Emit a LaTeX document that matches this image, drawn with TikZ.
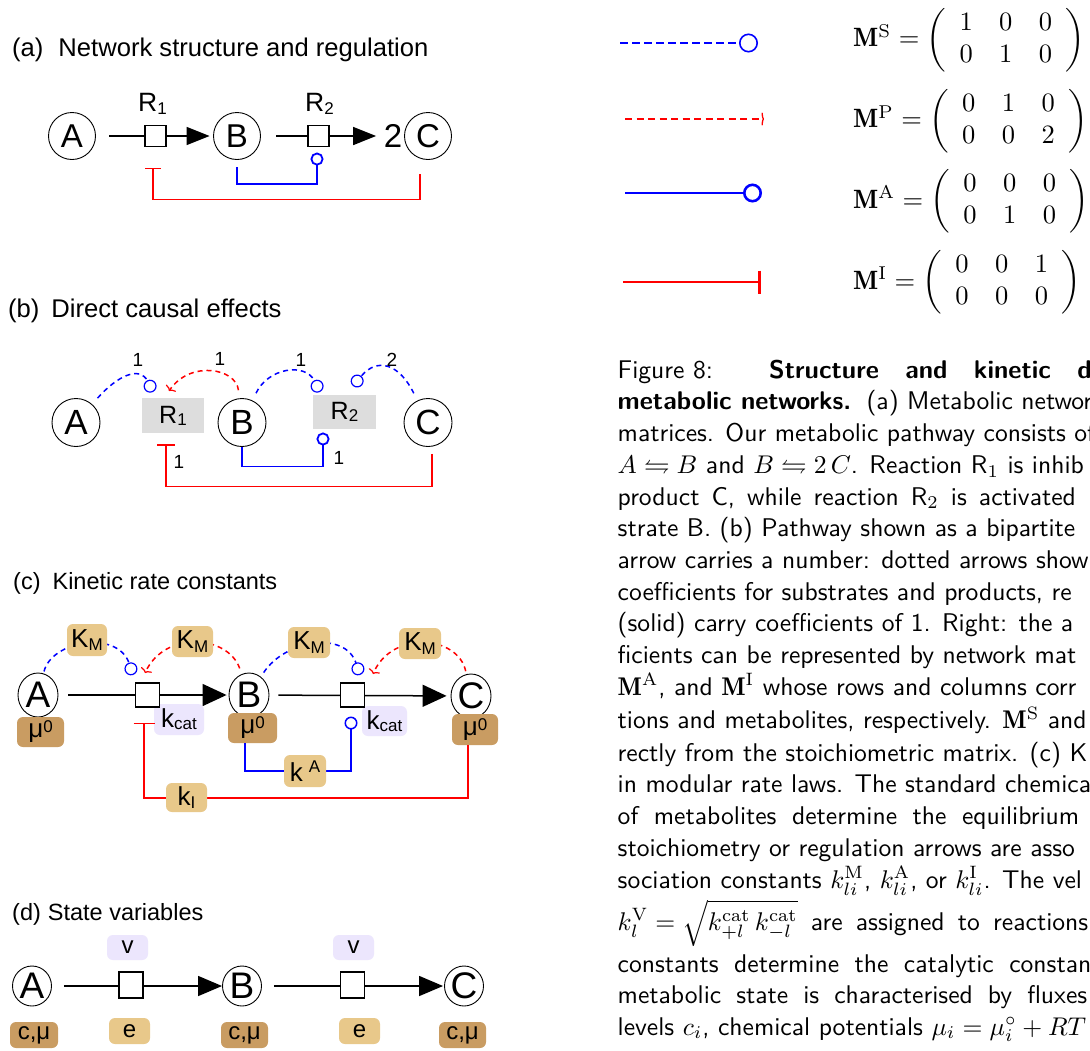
\documentclass[tikz,border=0pt]{standalone}
\usepackage{fontspec}
\usepackage{amssymb}
\usepackage{graphicx}
\newfontfamily\arialf{Liberation Sans}
\usetikzlibrary{arrows.meta,shapes.geometric}
\definecolor{brownc}{RGB}{201,156,98}
\definecolor{tanc}{RGB}{232,200,138}
\definecolor{lavc}{RGB}{236,230,253}
\definecolor{greyc}{RGB}{221,221,221}
% lowered / raised small text for sub- and superscripts in the diagrams
\newcommand\lowtxt[2][4pt]{\raisebox{-#1}{\fontsize{17}{17}\selectfont #2}}
\newcommand\hightxt[2][5pt]{\raisebox{#1}{\fontsize{17}{17}\selectfont #2}}
% caption lines and matrices are set at 10pt and enlarged
\newcommand\capscale[1]{\scalebox{2.56}{#1}}
\newcommand\matscale[1]{\scalebox{2.65}{#1}}
\tikzset{
  ttl/.style={anchor=base west, inner sep=0pt, font=\arialf\fontsize{25.6}{30}\selectfont},
  ttlc/.style={ttl, font=\arialf\fontsize{23.5}{28}\selectfont},
  metab/.style={circle, draw, line width=0.9pt, inner sep=0pt, minimum size=47pt,
    font=\arialf\fontsize{33}{33}\selectfont},
  metabb/.style={metab, minimum size=48pt, font=\arialf\fontsize{35}{35}\selectfont},
  metabe/.style={ellipse, draw, line width=0.9pt, inner sep=0pt, minimum width=40pt,
    minimum height=44pt, font=\arialf\fontsize{37}{37}\selectfont},
  rsq/.style={rectangle, draw, line width=1.1pt, fill=white, inner sep=0pt, minimum size=21pt},
  rlab/.style={anchor=base west, inner sep=0pt, font=\arialf\fontsize{26.5}{27}\selectfont},
  rgrey/.style={rectangle, fill=greyc, inner sep=0pt, font=\arialf\fontsize{25}{25}\selectfont},
  rxn/.style={line width=1.5pt, -{Triangle[length=23pt,width=18pt]}},
  actv/.style={blue, line width=1.8pt, -{Circle[open,length=13pt]}},
  inhb/.style={red, line width=1.8pt, -{Bar[width=16pt]}},
  subd/.style={blue, line width=1.5pt, dash pattern=on 5pt off 4pt,
    -{Circle[open,length=13pt,line width=1.2pt]}},
  prodd/.style={red, line width=1.5pt, dash pattern=on 5pt off 4pt,
    -{To[length=4pt,width=12pt,line width=1.2pt]}},
  kbox/.style={rectangle, rounded corners=6pt, inner sep=0pt, font=\arialf\fontsize{26}{26}\selectfont},
  brownb/.style={kbox, fill=brownc},
  tanb/.style={kbox, fill=tanc},
  lavb/.style={kbox, fill=lavc},
  num/.style={inner sep=0pt, font=\arialf\fontsize{19}{19}\selectfont},
  mat/.style={anchor=west, inner sep=0pt, font=\fontsize{10}{12}\selectfont},
  capl/.style={anchor=base west, inner sep=0pt, font=\sffamily\fontsize{10}{12.6}\selectfont},
}
\begin{document}
\begin{tikzpicture}[x=1pt,y=-1pt]
\fill[white] (0,0) rectangle (1090,1050);
\useasboundingbox (0,0) rectangle (1090,1050);

% ================= (a) network structure and regulation
\node[ttl] (ta) at (12,56) {(a)\hspace{15pt}Network structure and regulation};
\node[metab] (aA) at (72,136) {A};
\node[metab] (aB) at (237,136) {B};
\node[metab] (aC) at (428,136) {C};
\node[inner sep=0pt, font=\arialf\fontsize{33}{33}\selectfont] (a2) at (393,136) {2};
\draw[rxn, shorten <=13.5pt, shorten >=3.5pt] (aA) -- (aB);
\draw[rxn, shorten <=15.5pt, shorten >=7.5pt] (aB) -- (a2);
\node[rsq] (aR1) at (155.5,136) {};
\node[rsq] (aR2) at (318.5,136) {};
\node[rlab] (aL1) at (138,111) {R\lowtxt[3pt]{1}};
\node[rlab] (aL2) at (305,111) {R\lowtxt[3pt]{2}};
\draw[actv, shorten <=7.5pt, shorten >=5.5pt] (aB.south) -- ++(0,24) -| ([xshift=-1.5pt]aR2.south);
\draw[inhb, shorten <=14.5pt, shorten >=20.5pt] ([xshift=-8pt]aC.south) -- ++(0,39.5) -| ([xshift=-2.5pt]aR1.south);

% ================= (b) direct causal effects
\node[ttl] (tb) at (8,317) {(b)\hspace{12pt}Direct causal effects};
\node[metabb] (bA) at (76,422.5) {A};
\node[metabb] (bB) at (242,422.5) {B};
\node[metabb] (bC) at (428,422.5) {C};
\node[rgrey, minimum width=62pt, minimum height=35pt] (bR1) at (173,415.5) {R\lowtxt[2pt]{1}};
\node[rgrey, minimum width=63pt, minimum height=34pt] (bR2) at (344.5,412) {R\lowtxt[2pt]{2}};
\coordinate (bt1) at (153,392);
\coordinate (bt2) at (169,391);
\coordinate (bt3) at (320,392);
\coordinate (bt4) at (353,386);
\draw[subd, shorten <=8pt] (bA) .. controls (118,375) and (140,366) .. (bt1);
\draw[prodd, shorten <=8pt] (bB) .. controls (236,368) and (190,360) .. (bt2);
\draw[subd, shorten <=8pt] (bB) .. controls (268,368) and (305,362) .. (bt3);
\draw[subd, shorten <=8pt] (bC) .. controls (400,365) and (378,356) .. (bt4);
\draw[actv, shorten >=3.3pt] (bB.south) -- ++(0,19.5) -| ([xshift=-21.5pt]bR2.south);
\draw[inhb, line width=1.6pt, -{Bar[width=18pt]}, shorten <=7pt, shorten >=11pt]
  ([xshift=4pt]bC.south) -- ++(0,39.5) -| ([xshift=-7pt]bR1.south);
\node[num] (bn1) at (138,360) {1};
\node[num] (bn2) at (220,359) {1};
\node[num] (bn3) at (301,360) {1};
\node[num] (bn4) at (392,360) {2};
\node[num] (bn5) at (339,458) {1};
\node[num] (bn6) at (179,462) {1};

% ================= (c) kinetic rate constants
\node[ttlc] (tc) at (13,589) {(c)\hspace{12pt}Kinetic rate constants};
\node[metabe] (cA) at (38,695) {A};
\node[metabe] (cB) at (249,695) {B};
\node[metabe] (cC) at (471,696) {C};
\coordinate (ct1) at (133,675);
\coordinate (ct2) at (145,673);
\coordinate (ct3) at (360,675);
\coordinate (ct4) at (373,674);
\draw[subd, shorten <=2pt] (cA) .. controls (52,640) and (118,630) .. (ct1);
\draw[prodd, shorten <=6pt] (cB) .. controls (228,635) and (165,630) .. (ct2);
\draw[subd, shorten <=5pt] (cB) .. controls (285,640) and (345,630) .. (ct3);
\draw[prodd, shorten <=3pt] (cC) .. controls (458,635) and (392,630) .. (ct4);
\draw[rxn, -{Triangle[length=24pt,width=22pt]}, shorten <=10pt, shorten >=2pt] (cA) -- (cB);
\draw[rxn, -{Triangle[length=24pt,width=22pt]}, shorten <=9pt, shorten >=4pt] (cB) -- (cC);
\node[lavb, minimum width=50pt, minimum height=31pt] (ckc1) at (179,719.5) {k\lowtxt[2pt]{cat}};
\node[lavb, minimum width=45pt, minimum height=30pt] (ckc2) at (384.5,721) {k\lowtxt[2pt]{cat}};
\node[rsq, minimum size=24pt] (cR1) at (147.5,695) {};
\node[rsq, minimum size=24pt] (cR2) at (352.5,695) {};
\node[brownb, minimum width=47pt, minimum height=30pt] (cmuA) at (40.5,732) {μ\hightxt{0}};
\node[brownb, minimum width=49pt, minimum height=30pt] (cmuB) at (252.5,728) {μ\hightxt{0}};
\node[brownb, minimum width=46pt, minimum height=31pt] (cmuC) at (475,729.5) {μ\hightxt{0}};
\draw[actv, line width=1.5pt, shorten >=9pt] ([xshift=-7.5pt]cmuB.south) -- ++(0,28) -| ([xshift=-1.5pt]cR2.south);
\draw[inhb, line width=1.5pt, -{Bar[width=21pt]}, shorten >=15pt]
  ([xshift=-7pt]cmuC.south) -- ++(0,53) -| ([xshift=-3.5pt]cR1.south);
\node[tanb, minimum width=40pt, minimum height=32pt] (ck1) at (87,640) {K\lowtxt[3.5pt]{M}};
\node[tanb, minimum width=41pt, minimum height=31pt] (ck2) at (192.5,641.5) {K\lowtxt[3.5pt]{M}};
\node[tanb, minimum width=42pt, minimum height=31pt] (ck3) at (309,642.5) {K\lowtxt[3.5pt]{M}};
\node[tanb, minimum width=42pt, minimum height=31pt] (ck4) at (420,643.5) {K\lowtxt[3.5pt]{M}};
\node[tanb, minimum width=42pt, minimum height=32pt] (ckA) at (305,771) {k\hspace{6pt}\hightxt[9pt]{A}};
\node[tanb, minimum width=41pt, minimum height=29pt] (ckI) at (186.5,797.5) {k\lowtxt[3pt]{I}};

% ================= (d) state variables
\node[ttlc] (td) at (12,920) {(d)\hspace{7pt}State variables};
\node[metabe, minimum width=39pt, minimum height=40pt] (dA) at (32,986) {A};
\node[metabe, minimum width=39pt, minimum height=40pt] (dB) at (242,986) {B};
\node[metabe, minimum width=39pt, minimum height=40pt] (dC) at (464,986) {C};
\draw[rxn, -{Triangle[length=24pt,width=20pt]}, shorten <=12pt] (dA) -- (dB);
\draw[rxn, -{Triangle[length=24pt,width=20pt]}, shorten <=12pt, shorten >=1pt] (dB) -- (dC);
\node[rsq, minimum width=24pt, minimum height=26pt] (dR1) at (131,985) {};
\node[rsq, minimum width=24pt, minimum height=26pt] (dR2) at (352.5,985) {};
\node[lavb, minimum width=41pt, minimum height=25pt, font=\arialf\fontsize{24}{24}\selectfont] (dv1) at (127.5,947.5) {v};
\node[lavb, minimum width=41pt, minimum height=25pt, font=\arialf\fontsize{24}{24}\selectfont] (dv2) at (353.5,947.5) {v};
\node[tanb, minimum width=41pt, minimum height=26pt, font=\arialf\fontsize{24}{24}\selectfont] (de1) at (129.5,1031) {e};
\node[tanb, minimum width=41pt, minimum height=26pt, font=\arialf\fontsize{24}{24}\selectfont] (de2) at (359.5,1031) {e};
\node[brownb, minimum width=48pt, minimum height=26pt, font=\arialf\fontsize{24}{24}\selectfont] (dc1) at (34,1035) {c,μ};
\node[brownb, minimum width=47pt, minimum height=26pt, font=\arialf\fontsize{24}{24}\selectfont] (dc2) at (244.5,1035) {c,μ};
\node[brownb, minimum width=47pt, minimum height=26pt, font=\arialf\fontsize{24}{24}\selectfont] (dc3) at (462.5,1035) {c,μ};

% ================= legend of arrow types and network matrices
\coordinate (l1s) at (620,43);  \coordinate (l1e) at (758,43);
\coordinate (l2s) at (625,119); \coordinate (l2e) at (764,119);
\coordinate (l3s) at (625,193); \coordinate (l3e) at (762,193);
\coordinate (l4s) at (623,282); \coordinate (l4e) at (761,282);
\draw[blue, line width=2pt, dash pattern=on 8pt off 4pt, -{Circle[open,length=19pt,line width=1.6pt]}] (l1s) -- (l1e);
\draw[red, line width=2pt, dash pattern=on 7pt off 4.5pt, -{To[length=2.5pt,width=13pt,line width=1.3pt]}] (l2s) -- (l2e);
\draw[blue, line width=2.6pt, -{Circle[open,length=19pt]}] (l3s) -- (l3e);
\draw[red, line width=2.6pt, -{Bar[width=23pt]}] (l4s) -- (l4e);
\node[mat] (mS) at (853,40) {\matscale{$\mathbf{M}^{\mathrm{S}} = \left(\begin{array}{ccc}1&0&0\\0&1&0\end{array}\right)$}};
\node[mat] (mP) at (853,121) {\matscale{$\mathbf{M}^{\mathrm{P}} = \left(\begin{array}{ccc}0&1&0\\0&0&2\end{array}\right)$}};
\node[mat] (mA) at (853,201.5) {\matscale{$\mathbf{M}^{\mathrm{A}} = \left(\begin{array}{ccc}0&0&0\\0&1&0\end{array}\right)$}};
\node[mat] (mI) at (853,282.5) {\matscale{$\mathbf{M}^{\mathrm{I}} = \left(\begin{array}{ccc}0&0&1\\0&0&0\end{array}\right)$}};

% ================= caption, cut at the right edge
\begin{scope}
\clip (600,300) rectangle (1090,1050);
\node[capl] (c01) at (617.5,378) {\capscale{\makebox[185.2pt][s]{Figure\hspace{3.33pt}8:\hspace{5.4pt} \textbf{Structure and kinetic d}}}};
\node[capl] (c02) at (617.5,409.5) {\capscale{\textbf{metabolic networks.}\hspace{1.5pt} (a) Metabolic networ}};
\node[capl] (c03) at (617.5,441.5) {\capscale{matrices. Our metabolic pathway consists of}};
\node[capl] (c04) at (617.5,473.3) {\capscale{$A \leftrightharpoons B$ and $B \leftrightharpoons 2\,C$. Reaction R$_1$ is inhib}};
\node[capl] (c05) at (617.5,505) {\capscale{\makebox[188.9pt][s]{product C, while reaction R$_2$ is activated b}}};
\node[capl] (c06) at (617.5,536.7) {\capscale{strate B. (b) Pathway shown as a bipartite}};
\node[capl] (c07) at (617.5,568.3) {\capscale{arrow carries a number: dotted arrows show}};
\node[capl] (c08) at (617.5,600) {\capscale{coefficients for substrates and products, re}};
\node[capl] (c09) at (617.5,631.7) {\capscale{(solid) carry coefficients of 1. Right: the a}};
\node[capl] (c10) at (617.5,663.3) {\capscale{ficients can be represented by network mat}};
\node[capl] (c11) at (617.5,695) {\capscale{$\mathbf{M}^{\mathrm{A}}$, and $\mathbf{M}^{\mathrm{I}}$ whose rows and columns corr}};
\node[capl] (c12) at (617.5,728.5) {\capscale{tions and metabolites, respectively. $\mathbf{M}^{\mathrm{S}}$ and}};
\node[capl] (c13) at (617.5,761) {\capscale{rectly from the stoichiometric matrix. (c) K}};
\node[capl] (c14) at (617.5,792.5) {\capscale{in modular rate laws. The standard chemica}};
\node[capl] (c15) at (617.5,824.5) {\capscale{\makebox[180.3pt][s]{of metabolites determine the equilibrium}}};
\node[capl] (c16) at (617.5,856) {\capscale{stoichiometry or regulation arrows are asso}};
\node[capl] (c17) at (617.5,888) {\capscale{sociation constants $k_{li}^{\mathrm{M}}$, $k_{li}^{\mathrm{A}}$, or $k_{li}^{\mathrm{I}}$. The vel}};
\node[capl] (c18) at (617.5,930) {\capscale{\makebox[183.8pt][s]{\mbox{$k_l^{\mathrm{V}} = \sqrt{k_{+l}^{\mathrm{cat}}\,k_{-l}^{\mathrm{cat}}}$} are assigned to reactions}}};
\node[capl] (c19) at (617.5,972) {\capscale{\makebox[185pt][s]{constants determine the catalytic constan}}};
\node[capl] (c20) at (617.5,1003.5) {\capscale{\makebox[183.4pt][s]{metabolic state is characterised by fluxes}}};
\node[capl] (c21) at (617.5,1035) {\capscale{levels $c_i$, chemical potentials $\mu_i = \mu_i^{\circ} + RT$}};
\end{scope}
\end{tikzpicture}
\end{document}
